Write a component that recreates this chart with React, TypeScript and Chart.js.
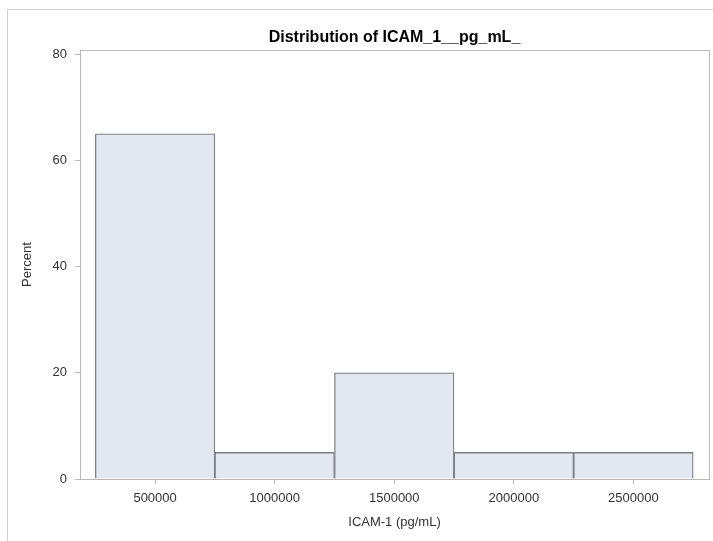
import React, { useEffect, useRef } from "react";
import { Chart, registerables } from "chart.js";

Chart.register(...registerables);

const binMidpoints = [500000, 1000000, 1500000, 2000000, 2500000];
const percentValues = [65, 5, 20, 5, 5];
const xTickValues = [500000, 1000000, 1500000, 2000000, 2500000];
const yTickValues = [0, 20, 40, 60, 80];
const chartTitle = "Distribution of ICAM_1__pg_mL_";
const xAxisTitle = "ICAM-1 (pg/mL)";
const yAxisTitle = "Percent";

const FONT = '"Liberation Sans", Arial, sans-serif';

export default function App() {
  const ref = useRef<HTMLCanvasElement>(null);

  useEffect(() => {
    if (!ref.current) return;
    const framePlugin = {
      id: "sasFrame",
      afterDatasetsDraw(chart: any) {
        const { ctx, chartArea: a } = chart;
        ctx.save();
        ctx.strokeStyle = "#b9b9b9";
        ctx.lineWidth = 1;
        ctx.strokeRect(a.left + 0.5, a.top + 0.5, a.right - a.left, a.bottom - a.top);
        ctx.restore();
      },
      afterDraw(chart: any) {
        const { ctx, chartArea: a } = chart;
        ctx.save();
        ctx.fillStyle = "#000000";
        ctx.font = `bold 16px ${FONT}`;
        ctx.textAlign = "center";
        ctx.textBaseline = "middle";
        ctx.fillText(chartTitle, (a.left + a.right) / 2, 37.5);
        ctx.restore();
      },
    };

    const chart = new Chart(ref.current, {
      type: "bar",
      data: {
        datasets: [
          {
            label: "Percent",
            data: binMidpoints.map((x, i) => ({ x, y: percentValues[i] })),
            backgroundColor: "#e3e7f0",
            borderColor: "#7d8085",
            borderWidth: 1.3,
            categoryPercentage: 1,
            barPercentage: 1,
          },
        ],
      },
      options: {
        animation: false,
        responsive: false,
        maintainAspectRatio: false,
        devicePixelRatio: 1,
        layout: { padding: { top: 50, right: 4, bottom: 0, left: 0 } },
        plugins: {
          legend: { display: false },
          tooltip: { enabled: false },
          title: { display: false },
        },
        scales: {
          x: {
            type: "linear",
            offset: false,
            min: 186000,
            max: 2816000,
            afterBuildTicks: (axis: any) => {
              axis.ticks = xTickValues.map((v) => ({ value: v }));
            },
            afterFit: (scale: any) => {
              scale.height = 62;
            },
            grid: {
              offset: false,
              drawOnChartArea: false,
              drawTicks: true,
              tickLength: 5,
              color: "#b9b9b9",
            },
            border: { display: false },
            ticks: {
              color: "#333333",
              font: { family: FONT, size: 13 },
              padding: 7,
              maxRotation: 0,
              autoSkip: false,
              callback: (v: any) => String(v),
            },
            title: {
              display: true,
              text: xAxisTitle,
              color: "#333333",
              font: { family: FONT, size: 13 },
              padding: { top: 0, bottom: 11 },
            },
          },
          y: {
            type: "linear",
            min: 0,
            max: 80.8,
            afterBuildTicks: (axis: any) => {
              axis.ticks = yTickValues.map((v) => ({ value: v }));
            },
            afterFit: (scale: any) => {
              scale.width = 80;
            },
            grid: {
              drawOnChartArea: false,
              drawTicks: true,
              tickLength: 5,
              color: "#b9b9b9",
            },
            border: { display: false },
            ticks: {
              color: "#333333",
              font: { family: FONT, size: 13 },
              padding: 8,
              autoSkip: false,
              callback: (v: any) => String(v),
            },
            title: {
              display: true,
              text: yAxisTitle,
              color: "#333333",
              font: { family: FONT, size: 13 },
              padding: { top: 20, bottom: 0 },
            },
          },
        },
      },
      plugins: [framePlugin],
    });
    return () => chart.destroy();
  }, []);

  return (
    <>
      <div
        style={{
          position: "absolute",
          left: 7,
          top: 9,
          width: 760,
          height: 600,
          borderTop: "1px solid #d2d2d2",
          borderLeft: "1px solid #d2d2d2",
          boxSizing: "border-box",
        }}
      />
      <canvas
        ref={ref}
        width={713}
        height={541}
        style={{ position: "absolute", left: 0, top: 0, width: 713, height: 541 }}
      />
    </>
  );
}
